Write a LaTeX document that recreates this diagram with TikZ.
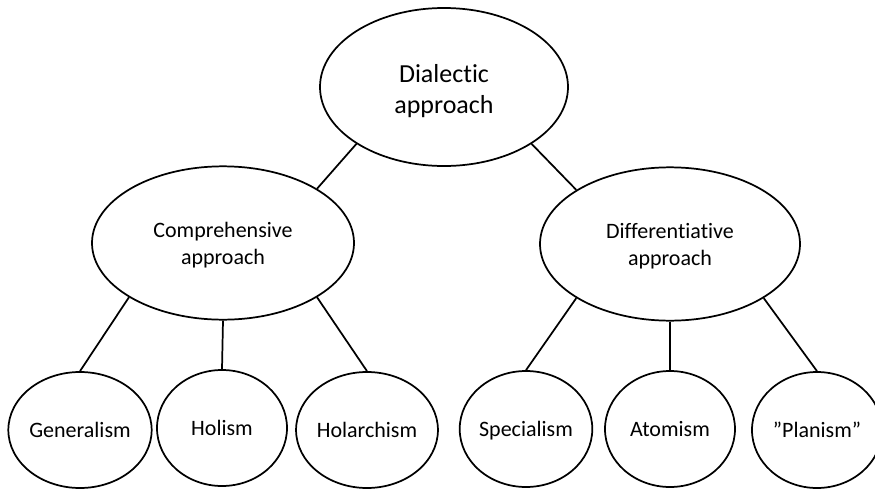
\documentclass[tikz,border=0pt]{standalone}
\usepackage{fontspec}
\setmainfont{Carlito}[Ligatures={NoCommon,NoContextual}]
\usetikzlibrary{shapes.geometric}
\tikzset{
  ell/.style={draw=black, line width=1.3pt, ellipse, inner sep=0pt, fill=white},
  rootnode/.style={ell, align=center, minimum width=186pt, minimum height=118.5pt, font=\fontsize{19.5}{23.25}\selectfont, text height=43pt, text depth=4pt},
  midnode/.style={ell, align=center, minimum height=115pt, font=\fontsize{16.5}{20.25}\selectfont, text height=36.5pt, text depth=4pt},
  leafnode/.style={ell, minimum width=97.5pt, minimum height=87pt, font=\fontsize{16.5}{20.25}\selectfont, text height=14pt, text depth=3.5pt},
  link/.style={draw=black, line width=1.3pt}
}
\begin{document}
\begin{tikzpicture}[x=0.75pt,y=-0.75pt]
\useasboundingbox[fill=white] (0,0) rectangle (875,489);
\node[rootnode] (dial) at (444,87) {Dialectic\\approach};
\node[midnode, minimum width=196.5pt] (comp) at (223,243) {Comprehensive\\approach};
\node[midnode, minimum width=195pt] (diff) at (670,244) {Differentiative\\approach};
\node[leafnode] (gen) at (80,430) {Generalism};
\node[leafnode] (hol) at (222,428) {Holism};
\node[leafnode] (hola) at (367,430) {Holarchism};
\node[leafnode] (spec) at (526,429) {Specialism};
\node[leafnode] (atom) at (670,429) {Atomism};
\node[leafnode] (plan) at (817,430) {”Planism”};
\draw[link] (dial.213) -- (comp.30);
\draw[link] (dial.327) -- (diff.150);
\draw[link] (comp.210) -- (gen.90);
\draw[link] (comp.270) -- (hol.90);
\draw[link] (comp.330) -- (hola.90);
\draw[link] (diff.210) -- (spec.90);
\draw[link] (diff.270) -- (atom.90);
\draw[link] (diff.330) -- (plan.90);
\end{tikzpicture}
\end{document}
